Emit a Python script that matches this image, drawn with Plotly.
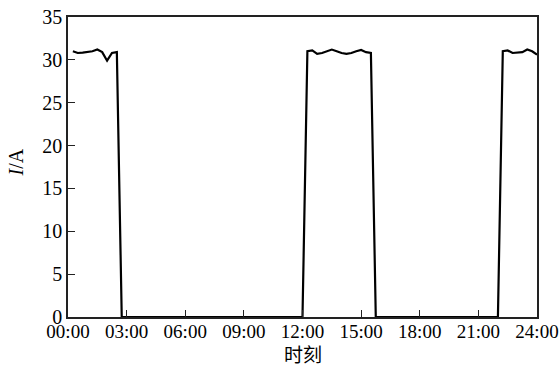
import plotly.graph_objects as go

# time in hours, current in A
hours = [0.25, 0.5, 0.75, 1.0, 1.25, 1.5, 1.75, 2.0, 2.25, 2.5, 2.75,
         12.0, 12.25, 12.5, 12.75, 13.0, 13.25, 13.5, 13.75, 14.0, 14.25, 14.5,
         14.75, 15.0, 15.25, 15.5, 15.75,
         22.0, 22.25, 22.5, 22.75, 23.0, 23.25, 23.5, 23.75, 24.0]
current = [31.0, 30.8, 30.85, 30.9, 31.0, 31.2, 30.9, 29.9, 30.8, 30.9, 0.0,
           0.0, 31.0, 31.1, 30.7, 30.8, 31.0, 31.2, 31.0, 30.8, 30.7, 30.8,
           31.0, 31.15, 30.9, 30.8, 0.0,
           0.0, 31.0, 31.1, 30.8, 30.85, 30.9, 31.2, 31.0, 30.6]

tick_vals = [0, 3, 6, 9, 12, 15, 18, 21, 24]
tick_text = ["00:00", "03:00", "06:00", "09:00", "12:00", "15:00", "18:00", "21:00", "24:00"]
y_ticks = [0, 5, 10, 15, 20, 25, 30, 35]

font_family = "Liberation Serif, Times New Roman, Noto Sans CJK SC, serif"

fig = go.Figure()
fig.add_trace(go.Scatter(x=hours, y=current, mode="lines",
                         line=dict(color="black", width=2.2), showlegend=False))

fig.update_layout(
    width=560, height=370,
    margin=dict(l=68, r=23, t=17, b=53),
    paper_bgcolor="white", plot_bgcolor="white",
    font=dict(family=font_family, size=19, color="black"),
    annotations=[
        dict(text="时刻", x=0.5, y=-0.12, xref="paper", yref="paper",
             showarrow=False, xanchor="center", yanchor="middle",
             font=dict(size=19, family="Noto Sans CJK SC, Noto Sans CJK TC", color="black")),
        dict(text="<i>I</i>/A", x=-0.113, y=0.515, xref="paper", yref="paper",
             showarrow=False, xanchor="center", yanchor="middle", textangle=-90,
             font=dict(size=20, family=font_family, color="black")),
    ],
)
fig.update_xaxes(
    range=[0, 24], tickvals=tick_vals, ticktext=tick_text, automargin=False,
    showgrid=False, zeroline=False, showline=True, mirror=True,
    linecolor="#222", linewidth=1.5, ticks="inside", ticklen=7,
    tickcolor="#222", tickfont=dict(size=19, family=font_family),
    ticklabelstandoff=-4,
)
fig.update_yaxes(
    range=[0, 35], tickvals=y_ticks, automargin=False,
    showgrid=False, zeroline=False, showline=True, mirror=True,
    linecolor="#222", linewidth=1.5, ticks="inside", ticklen=7,
    tickcolor="#222", tickfont=dict(size=20, family=font_family),
)

fig.write_html("out.html", config={"displayModeBar": False},
               post_script="document.body.style.margin='0';")
